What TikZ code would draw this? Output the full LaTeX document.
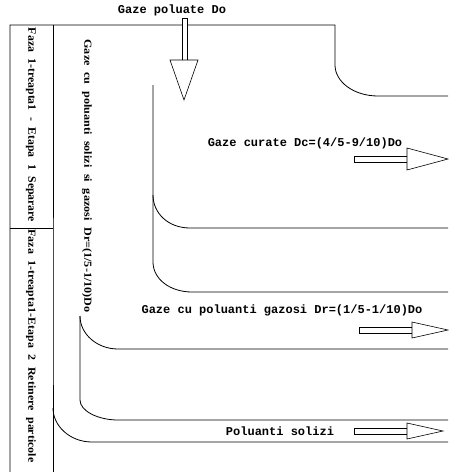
\documentclass[tikz,border=0pt]{standalone}
\usepackage{fontspec}
\usepackage{graphicx}
\setmainfont{Liberation Serif}
\newfontfamily\cadmono{Liberation Mono}
\usetikzlibrary{calc}
\newcommand{\stagetext}[2]{\resizebox{#1}{7.5pt}{\bfseries\spaceskip=0.55em\relax #2}}
\tikzset{
  wall/.style={line width=0.8pt, black},
  redwall/.style={line width=0.9pt, red},
  shaft/.style={draw, line width=0.6pt, fill=white},
  arrowhead/.style={draw, line width=0.6pt, fill=white},
  flowlabel/.style={font=\cadmono\bfseries\fontsize{12}{14}\selectfont, inner sep=0pt},
  stagelabel/.style={rotate=-90, inner sep=0pt},
}

\begin{document}
\begin{tikzpicture}[x=1pt, y=-1pt]
  \useasboundingbox (0,0) rectangle (448,472);

  % outer casing and stage column
  \draw[wall] (10,472) -- (10,25) -- (335,25) -- (335,65)
        .. controls (335,82) and (354,96) .. (378,96) -- (448,96);
  \draw[wall] (53,25) -- (53,472);
  \draw[redwall] (53,218) -- (53,385);
  \draw[wall] (10,228) -- (53,228);
  \draw[wall] (53,408) .. controls (53,426) and (70,442) .. (92,442) -- (448,442);

  % inner channel
  \draw[wall] (153,85) -- (153,262)
        .. controls (153,279) and (170,292) .. (192,292) -- (448,292);
  \draw[wall] (153,195) .. controls (153,213) and (168,228) .. (190,228) -- (448,228);

  % lower channel
  \draw[wall] (80,316) -- (80,400)
        .. controls (80,411) and (98,420) .. (118,420) -- (448,420);
  \draw[wall] (80,316) .. controls (80,334) and (97,349) .. (118,349) -- (448,349);

  % flow arrows
  \draw[shaft] (182,18) rectangle (187,60);
  \draw[arrowhead] (170,60) -- (198,60) -- (184,100) -- cycle;
  \draw[shaft] (354,156) rectangle (407,162);
  \draw[arrowhead] (407,148) -- (448,159) -- (407,170) -- cycle;
  \draw[shaft] (359,327) rectangle (412,333);
  \draw[arrowhead] (412,322) -- (448,330) -- (412,338) -- cycle;
  \draw[shaft] (354,428) rectangle (407,434);
  \draw[arrowhead] (407,423) -- (443,431) -- (407,439) -- cycle;

  % labels
  \node[flowlabel] (intrare) at (172,10) {Gaze poluate Do};
  \node[flowlabel] (curate) at (305,143) {Gaze curate Dc=(4/5-9/10)Do};
  \node[flowlabel] (gazosi) at (282,310) {Gaze cu poluanti gazosi Dr=(1/5-1/10)Do};
  \node[flowlabel] (solizi) at (280,431) {Poluanti solizi};
  \node[stagelabel] (etapa1) at (31,125)
       {\stagetext{194pt}{Faza 1-treapta1 - Etapa 1 Separare}};
  \node[stagelabel] (etapa2) at (31,346)
       {\stagetext{233pt}{Faza 1-treapta1-Etapa 2 Retinere particole}};
  \node[stagelabel] (amestec) at (87,176)
       {\stagetext{273pt}{Gaze cu poluanti solizi si gazosi Dr=(1/5-1/10)Do}};
\end{tikzpicture}
\end{document}
